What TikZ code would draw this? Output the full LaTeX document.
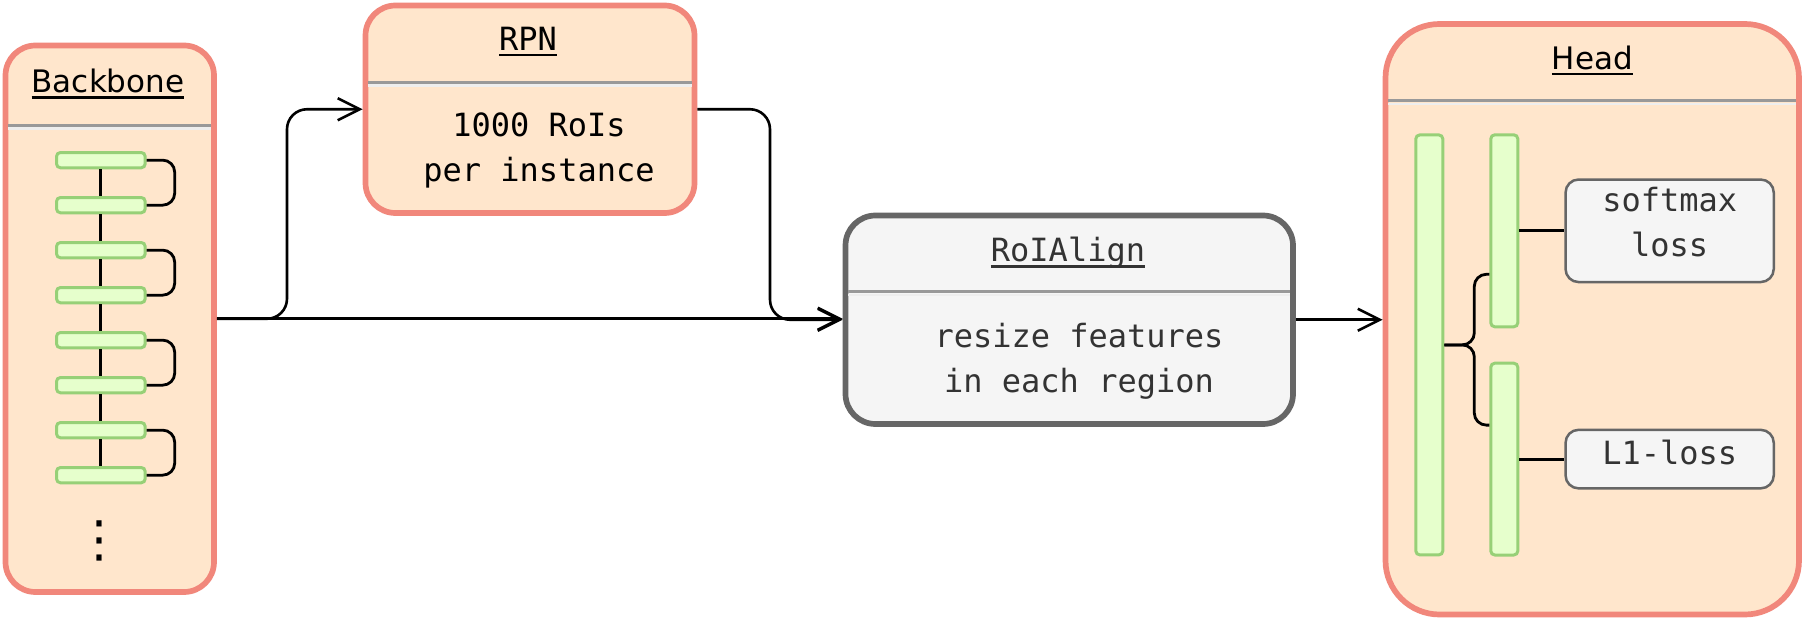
\documentclass[tikz,border=0pt]{standalone}
\usepackage{fontspec}
\setmainfont{DejaVu Sans}
\newfontfamily\monof{DejaVu Sans Mono}
\newfontfamily\sansf{DejaVu Sans}
\usetikzlibrary{arrows.meta,calc}
\definecolor{peach}{HTML}{FFE6CC}
\definecolor{salmon}{HTML}{F1877B}
\definecolor{lgray}{HTML}{F5F5F5}
\definecolor{dgray}{HTML}{666666}
\definecolor{txtgray}{HTML}{333333}
\definecolor{gfill}{HTML}{E6FFCC}
\definecolor{gline}{HTML}{97D077}
\definecolor{sepgray}{HTML}{999999}
\definecolor{seplight}{HTML}{EEEEEE}
\newcommand\myul[1]{\setbox0\hbox{#1}\rlap{\rule[-3pt]{\wd0}{1.2pt}}\box0}
\begin{document}
\begin{tikzpicture}[x=0.5pt,y=-0.5pt,
  stage/.style={draw=salmon, fill=peach, line width=2.85pt, rounded corners=15pt, inner sep=0pt},
  graystage/.style={draw=dgray, fill=lgray, line width=2.85pt, rounded corners=15pt, inner sep=0pt},
  lossbox/.style={draw=dgray, fill=lgray, line width=1.25pt, rounded corners=6.5pt, inner sep=0pt},
  gbar/.style={draw=gline, fill=gfill, line width=1.5pt, rounded corners=2pt, inner sep=0pt},
  ttl/.style={font=\sansf\fontsize{15.5}{18}\selectfont, anchor=base, inner sep=0pt},
  mono/.style={font=\monof\fontsize{16}{22.5}\selectfont, anchor=base, inner sep=0pt, align=center},
  sepline/.style={draw=sepgray, line width=1.5pt},
  seplite/.style={draw=seplight, line width=1.4pt},
  conn/.style={line width=1.3pt, black},
  arr/.style={conn, -{Straight Barb[length=11pt,width=11pt]}},
  lnk/.style={line width=1.4pt, black},
]
\useasboundingbox (0,0) rectangle (1806,621);
\fill[white] (0,0) rectangle (1806,621);

% main stages
\node[stage, minimum width=104.25pt, minimum height=273.25pt] (bb) at (109.75,318.75) {};
\node[stage, minimum width=164.5pt, minimum height=103.75pt] (rpn) at (530,109.25) {};
\node[graystage, minimum width=223.75pt, minimum height=104.25pt] (roi) at (1069.25,319.75) {};
\node[stage, minimum width=206.75pt, minimum height=295.25pt, rounded corners=27pt] (head) at (1592.25,319.25) {};

% separators
\draw[sepline] (8,125) -- (211,125);
\draw[seplite] (8,128.2) -- (211,128.2);
\draw[sepline] (368.4,82.5) -- (691.6,82.5);
\draw[seplite] (368.4,85.7) -- (691.6,85.7);
\draw[sepline] (848.4,291.7) -- (1290,291.7);
\draw[seplite] (848.4,294.9) -- (1290,294.9);
\draw[sepline] (1388.4,100.7) -- (1796,100.7);
\draw[seplite] (1388.4,103.9) -- (1796,103.9);

% titles
\node[ttl] (bbt) at (108,92.7) {\myul{Backbone}};
\node[ttl] (headt) at (1592.5,69) {\myul{Head}};
\node[mono] (rpnt) at (528,50) {\myul{RPN}};
\node[mono, text=txtgray] (roit) at (1068,261.7) {\myul{RoIAlign}};

% texts (anchor base = last line)
\node[mono] (rpnx) at (539,181.7) {1000 RoIs\\per instance};
\node[mono, text=txtgray] (roix) at (1079,392.7) {resize features\\in each region};

% backbone layers
\foreach \i in {1,...,8}
  \node[gbar, minimum width=44.35pt, minimum height=7.65pt] (b\i) at (100.85,{160.15+45*(\i-1)}) {};
\foreach \i [evaluate=\i as \j using int(\i+1)] in {1,...,7}
  \draw[lnk] (b\i.south) -- (b\j.north);
\foreach \i/\j in {1/2,3/4,5/6,7/8}
  \draw[lnk, rounded corners=6pt] (b\i.east) -- ++(28,0) |- (b\j.east);
\node[font=\sansf\fontsize{25}{25}\selectfont, inner sep=0pt] (dots) at (100,541) {⋮};

% head internals
\node[gbar, minimum width=13.5pt, minimum height=210pt] (h1) at (1429.3,344.9) {};
\node[gbar, minimum width=13.5pt, minimum height=96pt] (h2) at (1504.3,230.8) {};
\node[gbar, minimum width=13.5pt, minimum height=95.9pt] (h3) at (1504.3,459.1) {};
\node[lossbox, minimum width=104.1pt, minimum height=51.25pt] (sm) at (1669.65,230.8) {};
\node[lossbox, minimum width=104.1pt, minimum height=29.25pt] (l1) at (1669.65,459.1) {};
\node[mono, text=txtgray] (smx) at (1669.7,256.7) {softmax\\loss};
\node[mono, text=txtgray] (l1x) at (1669.7,464) {L1-loss};

\draw[lnk] (h2.east) -- (sm.west);
\draw[lnk] (h3.east) -- (l1.west);
\coordinate (h2in) at ($(h2.west)+(0,43.5)$);
\coordinate (h3in) at ($(h3.west)+(0,-34)$);
\draw[lnk, rounded corners=6pt] (h1.east) -- ++(30,0) |- (h2in);
\draw[lnk, rounded corners=6pt] (h1.east) -- ++(30,0) |- (h3in);

% connectors
\coordinate (br1) at (287,318.75);
\coordinate (br2) at (770,319.75);
\draw[arr] (bb.east) -- (bb.east -| roi.west);
\draw[arr, rounded corners=10pt] (bb.east) -- (br1) |- (rpn.west);
\draw[arr, rounded corners=10pt] (rpn.east) -| (br2) -- (roi.west);
\draw[arr] (roi.east) -- (roi.east -| head.west);
\end{tikzpicture}
\end{document}
